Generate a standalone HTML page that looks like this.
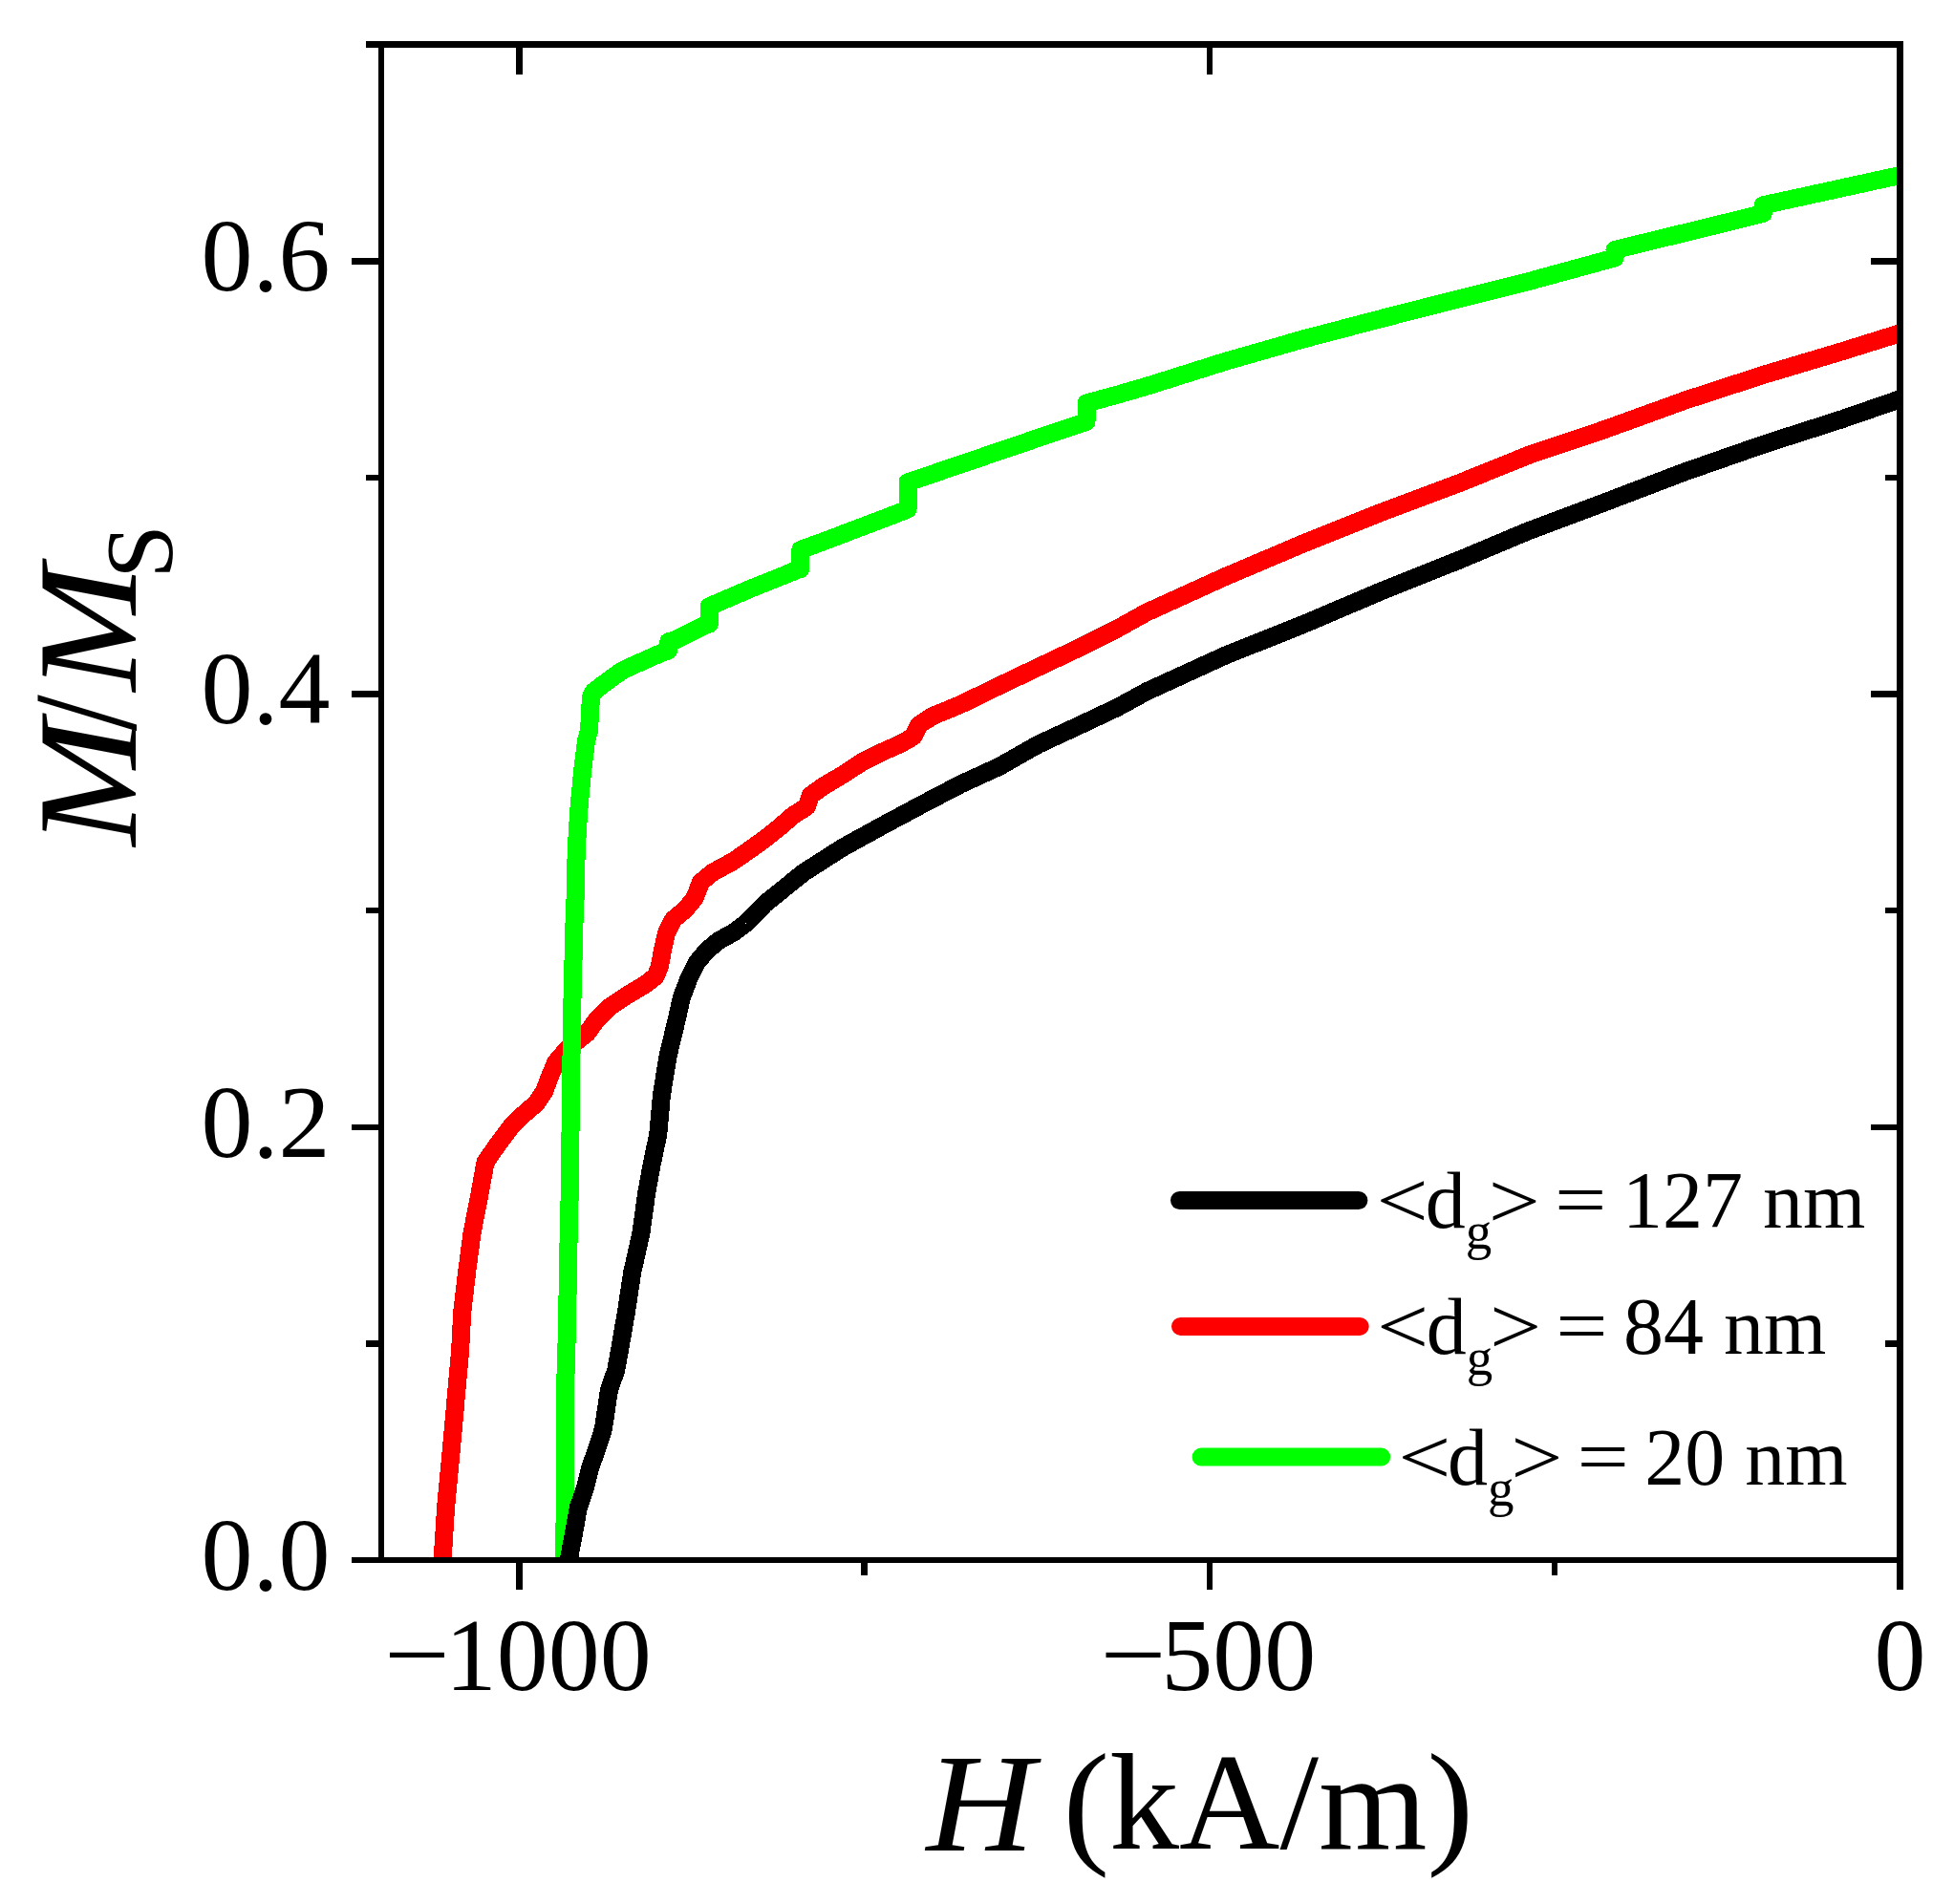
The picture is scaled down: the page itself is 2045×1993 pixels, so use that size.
<!DOCTYPE html>
<html><head><meta charset="utf-8"><title>M/Ms vs H</title>
<style>
html,body{margin:0;padding:0;background:#fff;}
svg{display:block;}
text{font-family:"Liberation Serif","Times New Roman",serif;fill:#000;}
</style></head><body>
<svg width="2045" height="1993" viewBox="0 0 2045 1993">
<rect x="0" y="0" width="2045" height="1993" fill="#fff"/>
<defs><clipPath id="cp"><rect x="399.0" y="46.5" width="1589.5" height="1586.5"/></clipPath></defs>
<g clip-path="url(#cp)" shape-rendering="crispEdges">
<polyline points="463.3,1640.0 463.3,1630.0 466.6,1577.7 470.5,1536.7 474.3,1495.8 477.9,1454.8 481.6,1413.9 483.8,1372.9 488.6,1331.9 494.0,1291.0 501.9,1250.0 508.1,1216.4 522.4,1195.9 534.7,1179.5 547.0,1167.2 561.3,1154.9 569.5,1142.6 575.7,1126.3 581.8,1111.9 594.1,1097.6 614.6,1081.2 624.8,1066.9 637.1,1054.6 655.5,1042.3 676.0,1030.0 686.3,1021.8 690.4,1011.6 693.4,995.2 697.5,976.7 704.7,962.4 717.0,952.2 727.2,939.9 733.4,923.5 745.7,913.3 768.2,901.0 788.7,886.6 800.0,878.5 815.0,866.5 830.7,853.0 844.2,844.5 848.4,832.5 861.4,823.2 881.9,811.0 902.4,797.6 922.9,787.4 943.4,778.2 955.7,771.0 961.8,758.7 976.1,749.5 1004.8,737.7 1045.8,717.8 1086.7,698.3 1127.7,678.9 1168.7,658.4 1200.0,641.0 1281.9,603.8 1363.8,569.0 1445.8,536.2 1527.7,505.5 1600.0,476.3 1681.9,448.7 1763.8,419.0 1845.8,392.3 1927.7,367.8 1985.0,349.9 2000.0,345.3" fill="none" stroke="#ff0000" stroke-width="19" stroke-linejoin="round" stroke-linecap="butt"/>
<polyline points="590.9,1640.0 590.9,1630.0 591.5,1455.0 593.2,1400.0 595.4,1280.0 596.2,1250.0 598.5,1064.8 601.1,962.4 601.8,950.0 603.3,887.7 605.9,846.7 609.7,805.8 613.6,775.1 616.5,764.8 617.7,744.3 618.4,730.0 621.4,723.9 630.7,716.7 641.9,708.5 652.2,701.3 672.6,692.1 691.1,683.9 699.7,680.8 699.7,671.6 707.5,669.6 723.8,661.4 738.2,654.2 742.3,653.2 742.3,634.8 756.6,628.6 785.3,616.3 816.0,604.0 834.4,596.5 837.8,595.5 837.8,575.5 861.4,566.9 922.8,543.6 950.0,533.2 950.0,504.9 1004.7,486.3 1086.6,458.4 1137.0,441.4 1137.0,422.0 1168.5,413.4 1200.0,404.3 1281.9,378.5 1363.8,355.0 1445.7,333.5 1527.5,312.6 1600.0,294.5 1661.4,277.7 1690.0,269.9 1690.0,261.5 1722.8,253.5 1804.7,233.5 1845.2,223.5 1845.2,214.8 1886.6,205.8 1984.9,184.3 2000.0,181.0" fill="none" stroke="#00ff00" stroke-width="19" stroke-linejoin="round" stroke-linecap="butt"/>
<polyline points="594.0,1640.0 595.8,1630.0 601.8,1598.2 605.4,1577.7 612.5,1557.2 617.6,1536.7 624.8,1516.3 631.4,1495.8 634.4,1475.3 637.5,1454.8 644.7,1434.3 648.4,1413.9 655.5,1372.9 661.7,1331.9 670.9,1291.0 676.5,1250.0 682.2,1218.4 688.7,1187.7 692.4,1146.7 699.0,1105.8 708.8,1064.8 713.3,1044.3 721.1,1023.8 729.3,1007.5 739.5,995.2 751.8,984.9 768.2,975.7 780.5,966.5 794.8,952.2 800.0,946.5 841.0,913.4 881.9,887.2 922.9,864.6 963.8,842.7 1004.8,821.2 1045.8,802.4 1086.7,779.2 1127.7,760.2 1168.7,740.9 1200.0,723.8 1281.9,686.3 1363.8,653.6 1445.8,618.7 1527.7,586.0 1600.0,555.6 1681.9,524.9 1763.8,493.7 1845.8,465.1 1927.7,438.8 1985.0,419.0 2000.0,414.0" fill="none" stroke="#000000" stroke-width="19" stroke-linejoin="round" stroke-linecap="butt"/>
</g>
<g stroke="#000" stroke-width="6.5" fill="none" stroke-linecap="butt" shape-rendering="crispEdges">
<line x1="399.0" y1="43.25" x2="399.0" y2="1636.25"/>
<line x1="1988.5" y1="43.25" x2="1988.5" y2="1636.25"/>
<line x1="383.0" y1="46.5" x2="1991.75" y2="46.5"/>
<line x1="368.0" y1="1633.0" x2="1991.75" y2="1633.0"/>
<line x1="383.0" y1="1406.4" x2="399.0" y2="1406.4"/>
<line x1="1972.5" y1="1406.4" x2="1988.5" y2="1406.4"/>
<line x1="368.0" y1="1179.8" x2="399.0" y2="1179.8"/>
<line x1="1957.5" y1="1179.8" x2="1988.5" y2="1179.8"/>
<line x1="383.0" y1="953.2" x2="399.0" y2="953.2"/>
<line x1="1972.5" y1="953.2" x2="1988.5" y2="953.2"/>
<line x1="368.0" y1="726.6" x2="399.0" y2="726.6"/>
<line x1="1957.5" y1="726.6" x2="1988.5" y2="726.6"/>
<line x1="383.0" y1="500.0" x2="399.0" y2="500.0"/>
<line x1="1972.5" y1="500.0" x2="1988.5" y2="500.0"/>
<line x1="368.0" y1="273.4" x2="399.0" y2="273.4"/>
<line x1="1957.5" y1="273.4" x2="1988.5" y2="273.4"/>
<line x1="543.3" y1="1633.0" x2="543.3" y2="1664.0"/>
<line x1="543.3" y1="46.5" x2="543.3" y2="77.5"/>
<line x1="904.6" y1="1633.0" x2="904.6" y2="1649.0"/>
<line x1="1265.9" y1="1633.0" x2="1265.9" y2="1664.0"/>
<line x1="1265.9" y1="46.5" x2="1265.9" y2="77.5"/>
<line x1="1627.2" y1="1633.0" x2="1627.2" y2="1649.0"/>
<line x1="1988.5" y1="1633.0" x2="1988.5" y2="1664.0"/>
</g>
<text x="345.4" y="1663.7" font-size="108" text-anchor="end">0.0</text>
<text x="345.4" y="1210.5" font-size="108" text-anchor="end">0.2</text>
<text x="345.4" y="757.3" font-size="108" text-anchor="end">0.4</text>
<text x="345.4" y="304.1" font-size="108" text-anchor="end">0.6</text>
<text transform="translate(402.06,1766.61) scale(1.1334,0.9647)" font-size="108">−</text>
<text x="465.76" y="1769" font-size="108">1000</text>
<text transform="translate(1151.39,1766.61) scale(1.1362,0.9647)" font-size="108">−</text>
<text x="1215.36" y="1769" font-size="108">500</text>
<text x="1988.5" y="1769" font-size="108" text-anchor="middle">0</text>
<text transform="translate(969.55,1936.60) scale(1.0737,1.0012)" font-size="146" font-style="italic">H</text>
<text transform="translate(1112.40,1935.09) scale(1.0002,0.9801)" font-size="146">(kA/m)</text>
<text transform="translate(141.61,885.42) rotate(-90) scale(1.0854,1.0115)" font-size="146" font-style="italic">M</text>
<text transform="translate(140.53,765.23) rotate(-90) scale(0.9369,1.0612)" font-size="146">/</text>
<text transform="translate(141.61,723.46) rotate(-90) scale(1.0854,1.0115)" font-size="146" font-style="italic">M</text>
<text transform="translate(179.22,605.73) rotate(-90) scale(1.0188,0.9912)" font-size="100">S</text>
<line x1="1234.5" y1="1256.5" x2="1421.9" y2="1256.5" stroke="#000" stroke-width="19" stroke-linecap="round"/>
<text transform="translate(1440.58,1285.23) scale(1.1439,1.0034)" font-size="84">&lt;</text>
<text y="1285.0" font-size="84"><tspan x="1491.68">d</tspan><tspan font-size="55" dy="22.4">g</tspan></text>
<text transform="translate(1557.66,1285.01) scale(1.1429,0.9783)" font-size="84">&gt;</text>
<text transform="translate(1626.90,1281.89) scale(1.1490,0.9382)" font-size="84">=</text>
<text x="1697.93" y="1285.0" font-size="84">127 nm</text>
<line x1="1235.5" y1="1388.4" x2="1423.2" y2="1388.4" stroke="#ff0000" stroke-width="19" stroke-linecap="round"/>
<text transform="translate(1441.01,1416.83) scale(1.1439,1.0034)" font-size="84">&lt;</text>
<text y="1416.9" font-size="84"><tspan x="1492.78">d</tspan><tspan font-size="55" dy="22.4">g</tspan></text>
<text transform="translate(1558.92,1416.83) scale(1.1462,1.0034)" font-size="84">&gt;</text>
<text transform="translate(1628.32,1413.50) scale(1.1490,0.9382)" font-size="84">=</text>
<text x="1699.03" y="1416.9" font-size="84">84 nm</text>
<line x1="1257.1" y1="1525.1" x2="1445.7" y2="1525.1" stroke="#00ff00" stroke-width="19" stroke-linecap="round"/>
<text transform="translate(1463.14,1552.85) scale(1.1660,0.9783)" font-size="84">&lt;</text>
<text y="1553.7" font-size="84"><tspan x="1515.08">d</tspan><tspan font-size="55" dy="22.4">g</tspan></text>
<text transform="translate(1581.17,1554.03) scale(1.1462,1.0034)" font-size="84">&gt;</text>
<text transform="translate(1650.57,1550.71) scale(1.1490,0.9382)" font-size="84">=</text>
<text x="1721.33" y="1553.7" font-size="84">20 nm</text>
</svg></body></html>
